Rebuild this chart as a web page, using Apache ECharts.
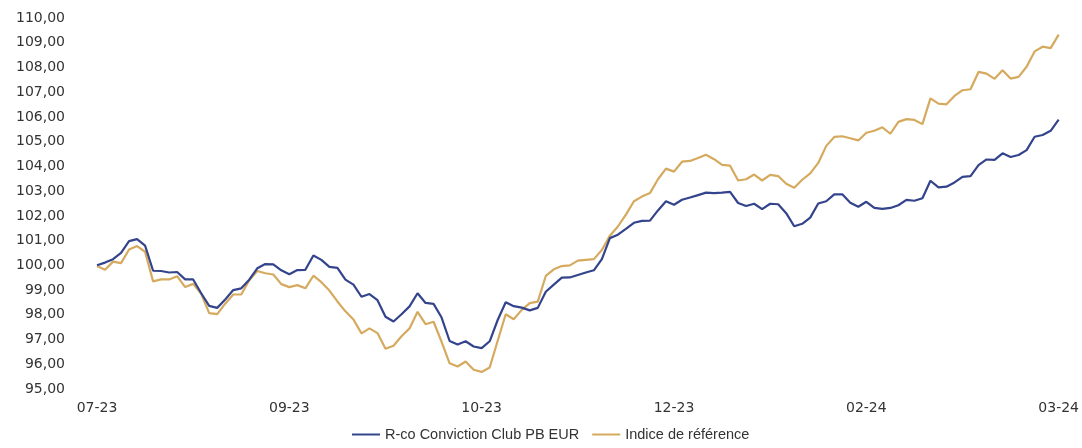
<!DOCTYPE html>
<html>
<head>
<meta charset="utf-8">
<script src="https://cdn.jsdelivr.net/npm/echarts@6/dist/echarts.min.js"></script>
<style>
html,body{margin:0;padding:0;background:#fff;}
#chart{width:1082px;height:448px;}
</style>
</head>
<body>
<div id="chart"></div>
<script>
const tickLabels = ['07-23','09-23','10-23','12-23','02-24','03-24'];
const tickStep = 24;
const seriesNames = ['R-co Conviction Club PB EUR','Indice de référence'];

const fundValues = [
100.00,100.11,100.25,100.50,100.98,101.06,100.80,99.78,99.77,99.71,
99.73,99.43,99.43,98.87,98.36,98.28,98.62,99.00,99.07,99.42,
99.88,100.05,100.04,99.80,99.64,99.81,99.82,100.40,100.22,99.94,
99.90,99.42,99.22,98.73,98.84,98.59,97.92,97.73,98.02,98.34,
98.87,98.48,98.44,97.89,96.94,96.80,96.93,96.72,96.65,96.93,
97.79,98.51,98.35,98.29,98.18,98.28,98.93,99.22,99.50,99.51,
99.61,99.71,99.80,100.25,101.10,101.24,101.47,101.72,101.80,101.81,
102.22,102.59,102.45,102.65,102.74,102.84,102.94,102.92,102.94,102.97,
102.52,102.40,102.49,102.27,102.49,102.47,102.11,101.58,101.68,101.93,
102.50,102.59,102.87,102.87,102.53,102.37,102.57,102.32,102.28,102.32,
102.43,102.65,102.61,102.71,103.42,103.15,103.18,103.35,103.58,103.61,
104.05,104.28,104.26,104.53,104.38,104.46,104.66,105.20,105.27,105.44,
105.89];

const indexValues = [
99.97,99.82,100.15,100.09,100.64,100.78,100.55,99.35,99.43,99.43,
99.56,99.12,99.25,98.85,98.07,98.03,98.45,98.82,98.82,99.40,
99.77,99.68,99.63,99.24,99.12,99.20,99.07,99.58,99.32,98.98,
98.54,98.14,97.81,97.25,97.45,97.26,96.63,96.75,97.13,97.45,
98.12,97.62,97.72,96.91,96.04,95.91,96.11,95.78,95.69,95.87,
96.95,98.02,97.82,98.20,98.47,98.53,99.57,99.84,99.97,100.00,
100.19,100.22,100.25,100.62,101.20,101.57,102.05,102.59,102.78,102.92,
103.48,103.91,103.79,104.19,104.22,104.34,104.47,104.29,104.06,104.03,
103.43,103.48,103.67,103.43,103.66,103.61,103.30,103.14,103.46,103.72,
104.14,104.83,105.19,105.22,105.14,105.05,105.36,105.44,105.58,105.32,
105.80,105.91,105.88,105.71,106.75,106.54,106.51,106.85,107.08,107.12,
107.82,107.75,107.54,107.89,107.55,107.62,108.03,108.65,108.84,108.78,
109.33];

const categories = fundValues.map((v, i) => (i % tickStep === 0 ? tickLabels[i / tickStep] : String(i)));

const chart = echarts.init(document.getElementById('chart'), null, {renderer: 'canvas'});
const textColor = '#333333';
const axisFont = '"DejaVu Sans", Arial, sans-serif';
const legendFont = '"Liberation Sans", Arial, sans-serif';

chart.setOption({
  animation: false,
  grid: {left: 97, right: 23, top: 18, bottom: 59, containLabel: false},
  legend: {
    bottom: 1,
    left: 347,
    icon: 'rect',
    itemWidth: 28,
    itemHeight: 2,
    itemGap: 13,
    textStyle: {color: textColor, fontSize: 14.5, fontFamily: legendFont},
    data: seriesNames
  },
  xAxis: {
    type: 'category',
    data: categories,
    boundaryGap: false,
    axisLine: {show: false},
    axisTick: {show: false},
    splitLine: {show: false},
    axisLabel: {
      interval: (i) => i % tickStep === 0,
      color: textColor,
      fontSize: 14,
      fontFamily: axisFont,
      margin: 12
    }
  },
  yAxis: {
    type: 'value',
    min: 95,
    max: 110,
    interval: 1,
    axisLine: {show: false},
    axisTick: {show: false},
    splitLine: {show: false},
    axisLabel: {
      color: textColor,
      fontSize: 14,
      fontFamily: axisFont,
      margin: 32,
      formatter: (v) => v.toFixed(2).replace('.', ',')
    }
  },
  series: [
    {
      name: seriesNames[0],
      type: 'line',
      data: fundValues,
      showSymbol: false,
      lineStyle: {color: '#34448c', width: 2.2},
      itemStyle: {color: '#34448c'},
      z: 3
    },
    {
      name: seriesNames[1],
      type: 'line',
      data: indexValues,
      showSymbol: false,
      lineStyle: {color: '#d5aa5e', width: 2.2},
      itemStyle: {color: '#d5aa5e'},
      z: 2
    }
  ]
});
</script>
</body>
</html>
